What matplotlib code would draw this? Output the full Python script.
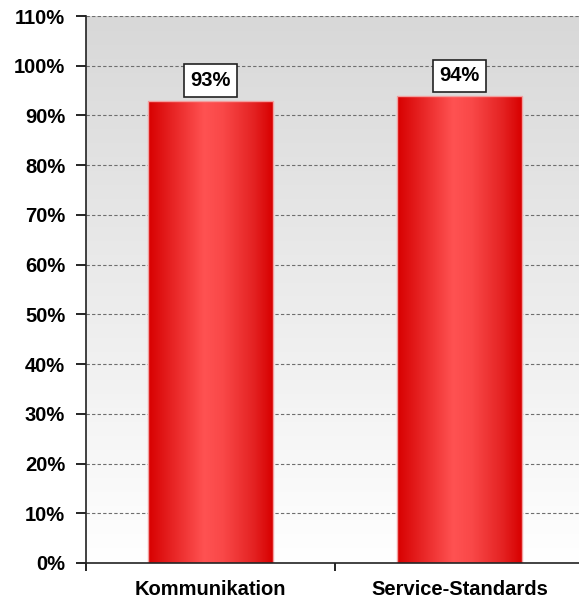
import numpy as np
import matplotlib.pyplot as plt
from matplotlib.colors import LinearSegmentedColormap
from matplotlib.ticker import MultipleLocator, FuncFormatter

plt.rcParams['font.family'] = ['Liberation Sans', 'DejaVu Sans']

categories = ['Kommunikation', 'Service-Standards']
values = [93, 94]

fig = plt.figure(figsize=(5.79, 5.98), dpi=100)
ax = fig.add_axes([86 / 579, 1 - 563 / 598, 498 / 579, 547 / 598])

x = np.arange(len(categories))
bar_w = 0.5

ax.set_xlim(-0.5, len(categories) - 0.5)
ax.set_ylim(0, 110)

# Hintergrund-Verlauf grau -> weiss
bg = np.linspace(1, 0, 256).reshape(-1, 1)
bg_cmap = LinearSegmentedColormap.from_list('bg', ['#ffffff', '#d8d8d8'])
ax.imshow(bg, extent=(0, 1, 0, 1), transform=ax.transAxes, cmap=bg_cmap,
          aspect='auto', zorder=0, origin='upper', vmin=0, vmax=1)

# Gitterlinien
for yv in np.arange(10, 111, 10):
    ax.axhline(yv, color='#6e6e6e', linestyle=(0, (3, 2)), lw=0.8, zorder=1)

# Balken mit horizontalem Verlauf
bar_cmap = LinearSegmentedColormap.from_list('bar', [
    (0.0, '#d80000'), (0.15, '#e31c1c'), (0.45, '#ff5252'),
    (0.6, '#f94848'), (0.85, '#e42222'), (1.0, '#d80000')])
grad = np.linspace(0, 1, 256).reshape(1, -1)
bars = ax.bar(x, values, width=bar_w, color='none', edgecolor='#f2a0a0',
              lw=1, zorder=3)
for rect in bars:
    im = ax.imshow(grad, extent=(rect.get_x(), rect.get_x() + rect.get_width(),
                                 0, rect.get_height()),
                   cmap=bar_cmap, aspect='auto', zorder=2)
    im.set_clip_path(rect)

ax.set_xlim(-0.5, len(categories) - 0.5)
ax.set_ylim(0, 110)

# Wertebeschriftungen
for xi, v in zip(x, values):
    ax.text(xi, v + 4.0, f'{v}%', ha='center', va='center', fontsize=14.5,
            fontweight='bold', zorder=5,
            bbox=dict(boxstyle='square,pad=0.33', facecolor='white',
                      edgecolor='#222222', lw=1.2))

# Achsen
ax.yaxis.set_major_locator(MultipleLocator(10))
ax.yaxis.set_major_formatter(FuncFormatter(lambda v, p: f'{v:.0f}%'))
ax.set_xticks(np.arange(-0.5, len(categories), 1.0))
ax.set_xticklabels([])
ax.set_xticks(x, minor=True)
ax.set_xticklabels(categories, minor=True, fontsize=14.5, fontweight='bold')
ax.tick_params(axis='x', which='minor', length=0, pad=12)
ax.tick_params(axis='x', which='major', length=6, width=1.2, direction='out')
ax.tick_params(axis='y', length=7, width=1.2, direction='out', pad=8)
for lab in ax.get_yticklabels():
    lab.set_fontsize(14.5)
    lab.set_fontweight('bold')

for s in ['top', 'right']:
    ax.spines[s].set_visible(False)
for s in ['left', 'bottom']:
    ax.spines[s].set_linewidth(1.2)
    ax.spines[s].set_color('#222222')
    ax.spines[s].set_zorder(6)

fig.savefig('out.png', dpi=100)
